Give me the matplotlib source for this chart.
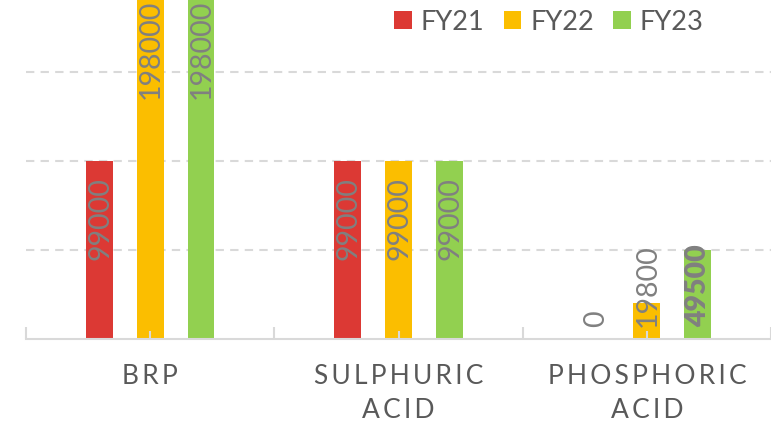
import numpy as np
import matplotlib.pyplot as plt

# Data
categories = ["BRP", "SULPHURIC\nACID", "PHOSPHORIC\nACID"]
series = ["FY21", "FY22", "FY23"]
fy21 = [99000, 99000, 0]
fy22 = [198000, 99000, 19800]
fy23 = [198000, 99000, 49500]
colors = ["#DC3934", "#FBBE00", "#92D050"]
bold_labels = [(2, 2)]  # (category, series) drawn in bold

plt.rcParams['font.family'] = ['Lato', 'DejaVu Sans']

fig = plt.figure(figsize=(7.71, 4.25), dpi=100)
ax = fig.add_axes([26 / 771, 86.5 / 425, 1 - 26 / 771, 338.5 / 425])

x = np.arange(len(categories))
width = 0.108
step = 0.205
values = [fy21, fy22, fy23]

for i, (name, vals, col) in enumerate(zip(series, values, colors)):
    pos = x + (i - 1) * step
    ax.bar(pos, vals, width, color=col, label=name, zorder=2)
    for j, (px, v) in enumerate(zip(pos, vals)):
        weight = 'heavy' if (j, i) in bold_labels else 'normal'
        if v >= 99000:
            ax.annotate(str(v), (px, v), xytext=(0.7, -12), textcoords='offset points',
                        rotation=90, ha='center', va='top', fontsize=20.5,
                        color='#808080', annotation_clip=False, zorder=4, fontweight=weight)
        else:
            ax.annotate(str(v), (px, 0), xytext=(0.5, 8), textcoords='offset points',
                        rotation=90, ha='center', va='bottom', fontsize=20.5,
                        color='#808080', zorder=4, fontweight=weight)

ax.set_xlim(-0.5, 2.492)
ax.set_ylim(0, 338.5 / 89 * 49500)

# gridlines
ax.set_yticks([49500, 99000, 148500])
ax.yaxis.grid(True, color='#D9D9D9', linestyle=(0, (4, 3)), linewidth=1.5)
ax.yaxis.set_zorder(0.5)
ax.tick_params(axis='y', left=False, labelleft=False)

# x axis
spaced = ["\n".join("\u2009".join(w) for w in c.split("\n")) for c in categories]
ax.set_xticks(x)
ax.set_xticklabels(spaced, fontsize=19, color='#595959', linespacing=1.45)
ax.set_xticks(np.arange(-0.5, 2.6, 1.0), minor=True)
ax.tick_params(axis='x', which='major', direction='in', length=6, width=1.5,
               color='#D9D9D9', pad=18)
ax.tick_params(axis='x', which='minor', direction='in', length=9, width=1.5,
               color='#D9D9D9')
ax.xaxis.set_zorder(3)

for s in ['top', 'right', 'left']:
    ax.spines[s].set_visible(False)
ax.spines['bottom'].set_color('#D9D9D9')
ax.spines['bottom'].set_linewidth(1.5)
ax.spines['bottom'].set_zorder(3)

leg = fig.legend(loc='center', bbox_to_anchor=(0.712, 0.948), ncol=3, frameon=False,
                 fontsize=19.5, handlelength=0.66, handleheight=0.66,
                 handletextpad=0.33, columnspacing=0.7)
for t in leg.get_texts():
    t.set_color('#595959')

fig.savefig('out.png', dpi=100)
